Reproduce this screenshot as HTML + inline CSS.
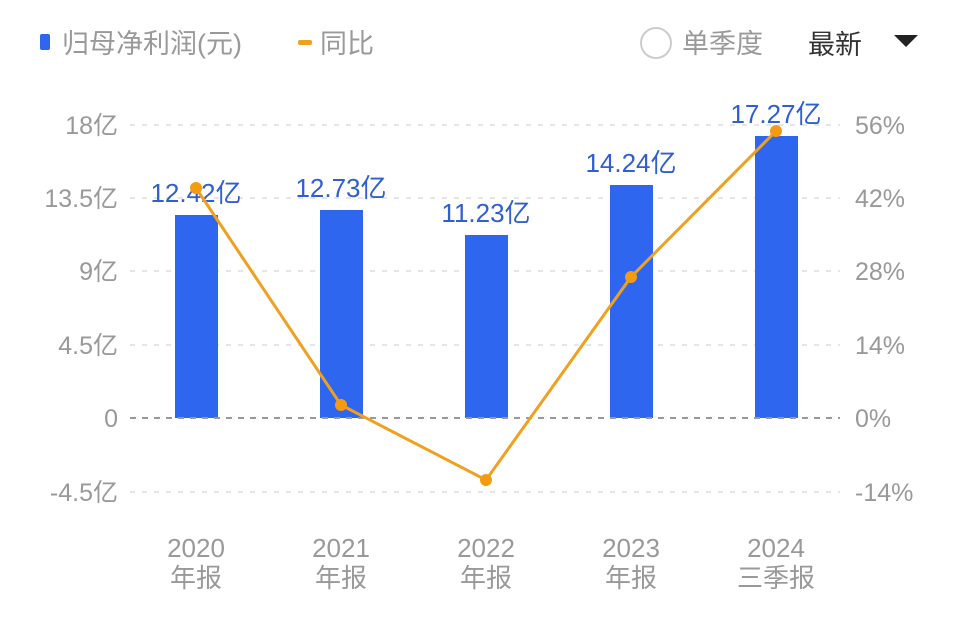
<!DOCTYPE html>
<html><head><meta charset="utf-8"><style>
body{margin:0;background:#fff;width:960px;height:622px;overflow:hidden}
text{font-family:"Liberation Sans","Noto Sans CJK SC",sans-serif}
</style></head><body>
<svg width="960" height="622" viewBox="0 0 960 622" xmlns="http://www.w3.org/2000/svg">
<rect x="40" y="34" width="10" height="16" rx="2" fill="#2f66f0"/>
<text x="62" y="53" font-size="27" fill="#999">归母净利润(元)</text>
<rect x="298" y="40" width="14" height="5" rx="2" fill="#f0a020"/>
<text x="320" y="53" font-size="27" fill="#999">同比</text>
<circle cx="656" cy="43" r="15" fill="none" stroke="#ccc" stroke-width="2"/>
<text x="682" y="53" font-size="27" fill="#999">单季度</text>
<text x="808" y="54" font-size="27" fill="#333">最新</text>
<polygon points="894,35 918,35 906,47" fill="#222"/>
<g stroke="#e6e6e6" stroke-width="2" stroke-dasharray="5,7">
<line x1="130" y1="125" x2="840" y2="125"/>
<line x1="130" y1="198" x2="840" y2="198"/>
<line x1="130" y1="271" x2="840" y2="271"/>
<line x1="130" y1="345" x2="840" y2="345"/>
<line x1="130" y1="492" x2="840" y2="492"/>
</g>
<g font-size="25" fill="#999" text-anchor="end">
<text x="118" y="134">18亿</text>
<text x="118" y="207">13.5亿</text>
<text x="118" y="280">9亿</text>
<text x="118" y="354">4.5亿</text>
<text x="118" y="427">0</text>
<text x="118" y="501">-4.5亿</text>
</g>
<g font-size="25" fill="#999">
<text x="855" y="134">56%</text>
<text x="855" y="207">42%</text>
<text x="855" y="280">28%</text>
<text x="855" y="354">14%</text>
<text x="855" y="427">0%</text>
<text x="855" y="501">-14%</text>
</g>
<g fill="#2f66f0">
<rect x="175" y="215" width="43" height="203"/>
<rect x="320" y="210" width="43" height="208"/>
<rect x="465" y="235" width="43" height="183"/>
<rect x="610" y="185" width="43" height="233"/>
<rect x="755" y="136" width="43" height="282"/>
</g>
<line x1="130" y1="418" x2="840" y2="418" stroke="#999" stroke-width="2" stroke-dasharray="6,6"/>
<g font-size="26" fill="#2f5fd0" text-anchor="middle">
<text x="196" y="202">12.42亿</text>
<text x="341" y="197">12.73亿</text>
<text x="486" y="222">11.23亿</text>
<text x="631" y="172">14.24亿</text>
<text x="776" y="123">17.27亿</text>
</g>
<polyline points="196,188 341,405 486,480 631,277 776,131" fill="none" stroke="#f0a020" stroke-width="3"/>
<g fill="#f39c12">
<circle cx="196" cy="188" r="6"/><circle cx="341" cy="405" r="6"/><circle cx="486" cy="480" r="6"/><circle cx="631" cy="277" r="6"/><circle cx="776" cy="131" r="6"/>
</g>
<g font-size="26" fill="#999" text-anchor="middle">
<text x="196" y="557">2020</text><text x="196" y="587">年报</text>
<text x="341" y="557">2021</text><text x="341" y="587">年报</text>
<text x="486" y="557">2022</text><text x="486" y="587">年报</text>
<text x="631" y="557">2023</text><text x="631" y="587">年报</text>
<text x="776" y="557">2024</text><text x="776" y="587">三季报</text>
</g>
</svg>
</body></html>
